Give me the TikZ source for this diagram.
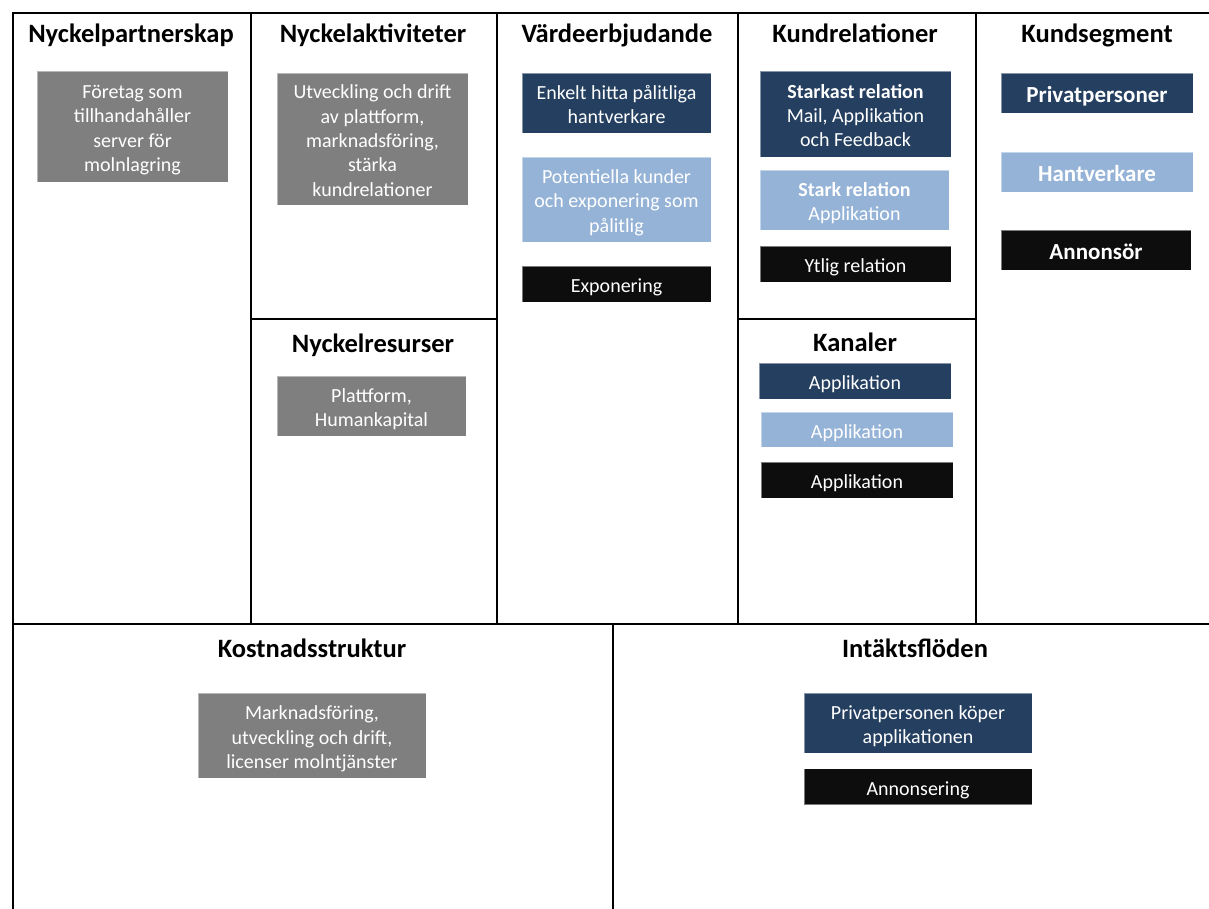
\documentclass[tikz,border=0pt]{standalone}
\usepackage{fontspec}
\setmainfont{Carlito}
\definecolor{cdark}{HTML}{243F60}
\definecolor{clight}{HTML}{95B3D7}
\definecolor{cgray}{HTML}{7F7F7F}
\definecolor{cblack}{HTML}{0D0D0D}
\begin{document}
\begin{tikzpicture}[x=1pt,y=-1pt,
  grid/.style={line width=2.8pt, black},
  title/.style={font=\fontsize{26.5}{30}\selectfont\bfseries, text=black, inner sep=0pt, anchor=base},
  boxbase/.style={draw=white, draw opacity=0.45, line width=0.8pt, text=white, align=flush center, inner sep=0pt,
    text width=184pt,
    font=\fontsize{20}{24.3}\selectfont,
    execute at begin node={\rule{0pt}{1.15em}},
    execute at end node={\rule[-0.3em]{0pt}{0.3em}}},
  ml/.style={execute at begin node={\rule{0pt}{1.05em}}},
  graybox/.style={boxbase, fill=cgray},
  darkbox/.style={boxbase, fill=cdark},
  lightbox/.style={boxbase, fill=clight},
  blackbox/.style={boxbase, fill=cblack},
  segfont/.style={font=\fontsize{23}{26}\selectfont\bfseries}
]
\useasboundingbox (0,0) rectangle (1209,909);
\fill[white] (0,0) rectangle (1209,909);
% grid
\draw[grid] (13,909) -- (13,13) -- (1212,13);
\draw[grid] (11.6,624) -- (1212,624);
\draw[grid] (251,13) -- (251,624);
\draw[grid] (497,13) -- (497,624);
\draw[grid] (738,13) -- (738,624);
\draw[grid] (976,13) -- (976,624);
\draw[grid] (613,624) -- (613,912);
\draw[grid] (251,319) -- (497,319);
\draw[grid] (738,319) -- (976,319);
% titles
\node[title] (tp) at (131,43) {Nyckelpartnerskap};
\node[title] (ta) at (373,43) {Nyckelaktiviteter};
\node[title] (tv) at (617,43) {Värdeerbjudande};
\node[title] (tk) at (855,43) {Kundrelationer};
\node[title] (ts) at (1097,43) {Kundsegment};
\node[title] (tr) at (373,352) {Nyckelresurser};
\node[title] (tc) at (855,351) {Kanaler};
\node[title] (tko) at (312,657) {Kostnadsstruktur};
\node[title] (ti) at (915,657) {Intäktsflöden};
% col 1
\node[graybox, ml, minimum width=191pt, minimum height=111pt] (b1) at (132.5,126.5)
  {Företag som\\tillhandahåller\\server för\\molnlagring};
% col 2
\node[graybox, ml, minimum width=191pt, minimum height=132pt] (b2) at (372.5,139)
  {Utveckling och drift\\av plattform,\\marknadsföring,\\stärka\\kundrelationer};
\node[graybox, ml, minimum width=189pt, minimum height=60pt] (b3) at (371.5,406)
  {Plattform,\\Humankapital};
% col 3
\node[darkbox, ml, minimum width=189pt, minimum height=60pt] (v1) at (616.5,103)
  {Enkelt hitta pålitliga\\hantverkare};
\node[lightbox, ml, minimum width=189pt, minimum height=85pt] (v2) at (616.5,199.5)
  {Potentiella kunder\\och exponering som\\pålitlig};
\node[blackbox, minimum width=189pt, minimum height=36pt] (v3) at (616.5,284)
  {Exponering};
% col 4
\node[darkbox, ml, minimum width=191pt, minimum height=86pt] (k1) at (855.5,114)
  {\textbf{Starkast relation}\\Mail, Applikation\\och Feedback};
\node[lightbox, ml, minimum width=189pt, minimum height=60pt] (k2) at (854.5,200)
  {\textbf{Stark relation}\\Applikation};
\node[blackbox, minimum width=191pt, minimum height=36pt] (k3) at (855.5,264)
  {Ytlig relation};
\node[darkbox, minimum width=192pt, minimum height=36pt] (c1) at (855,381)
  {Applikation};
\node[lightbox, minimum width=192pt, minimum height=35pt] (c2) at (857,429.5)
  {Applikation};
\node[blackbox, minimum width=192pt, minimum height=36pt] (c3) at (857,480)
  {Applikation};
% col 5
\node[darkbox, segfont, minimum width=192pt, minimum height=40pt] (s1) at (1097,93)
  {Privatpersoner};
\node[lightbox, segfont, minimum width=192pt, minimum height=40pt] (s2) at (1097,172)
  {Hantverkare};
\node[blackbox, segfont, minimum width=190pt, minimum height=40pt] (s3) at (1096,250)
  {Annonsör};
% bottom
\node[graybox, ml, minimum width=228pt, minimum height=85pt] (kb) at (312,735.5)
  {Marknadsföring,\\utveckling och drift,\\licenser molntjänster};
\node[darkbox, ml, minimum width=228pt, minimum height=60pt] (i1) at (918,723)
  {Privatpersonen köper\\applikationen};
\node[blackbox, minimum width=228pt, minimum height=36pt] (i2) at (918,786.5)
  {Annonsering};
\end{tikzpicture}
\end{document}
